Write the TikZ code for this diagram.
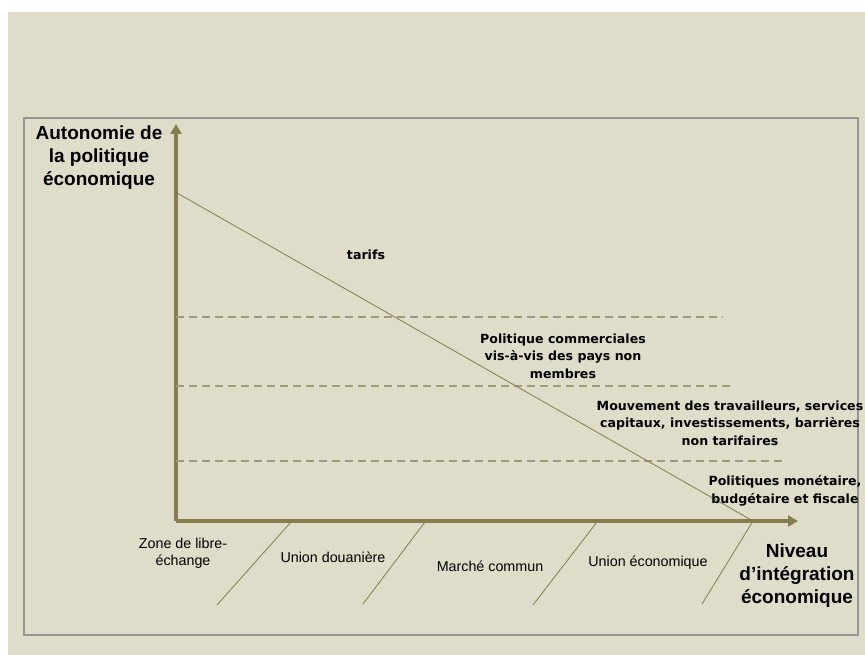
\documentclass[tikz,border=0pt]{standalone}
\usepackage{fontspec}
\setmainfont{Liberation Sans}
\newfontfamily\zonefont{DejaVu Sans}
\usetikzlibrary{arrows.meta}

\definecolor{fond}{RGB}{223,221,201}
\definecolor{axecol}{RGB}{133,127,80}
\definecolor{droitecol}{RGB}{128,123,78}
\definecolor{tiretcol}{RGB}{158,155,118}
\definecolor{cadrecol}{RGB}{150,150,145}

\tikzset{
  axe/.style={line width=4pt, draw=axecol, -{Triangle[width=11pt,length=10pt]}},
  palier/.style={draw=tiretcol, line width=1.3pt, dash pattern=on 8pt off 5pt},
  coupe/.style={draw=droitecol, line width=0.8pt},
  titre/.style={font=\fontsize{19}{23}\selectfont\bfseries, align=center, inner sep=0pt},
  etape/.style={font=\fontsize{14.3}{17}\selectfont, align=center, inner sep=0pt},
  domaine/.style={font=\zonefont\fontsize{12.6}{17.6}\selectfont\bfseries, align=center, inner sep=0pt}
}

\begin{document}
\begin{tikzpicture}[x=1pt,y=-1pt]
  \useasboundingbox (0,0) rectangle (865,655);
  \fill[fond] (8,12) rectangle (865,655);
  \draw[cadrecol, line width=1.5pt] (24,118) rectangle (858,635);

  % axes
  \coordinate (O) at (176,521);
  \coordinate (ytop) at (176,124);
  \coordinate (xend) at (798,521);
  \draw[axe] (O) -- (ytop);
  \draw[axe] (O) -- (xend);

  % paliers
  \draw[palier] (176,317) -- (723,317);
  \draw[palier] (176,386) -- (733,386);
  \draw[palier] (176,461) -- (782,461);

  % droite
  \coordinate (A) at (177,193);
  \coordinate (B) at (753,521);
  \draw[coupe] (A) -- (B);

  % separations
  \draw[coupe] (291,522) -- (217,605);
  \draw[coupe] (425,522) -- (363,604);
  \draw[coupe] (597,522) -- (533,605);
  \draw[coupe] (B) -- (702,604);

  \node[titre] (ylabel) at (99,158) {Autonomie de\\la politique\\économique};
  \node[titre] (xlabel) at (797,576) {Niveau\\d’intégration\\économique};

  \node[domaine] (tarifs) at (366,255) {tarifs};
  \node[domaine] (commerce) at (563,356) {Politique commerciales\\vis-à-vis des pays non\\membres};
  \node[domaine] (mouvement) at (730,423) {Mouvement des travailleurs, services\\capitaux, investissements, barrières\\non tarifaires};
  \node[domaine] (monnaie) at (785,491) {Politiques monétaire,\\budgétaire et fiscale};

  \node[etape] (zle) at (183,553) {Zone de libre-\\échange};
  \node[etape] (ud) at (333,557) {Union douanière};
  \node[etape] (mc) at (490,566) {Marché commun};
  \node[etape] (ue) at (648,563) {Union économique};
\end{tikzpicture}
\end{document}
